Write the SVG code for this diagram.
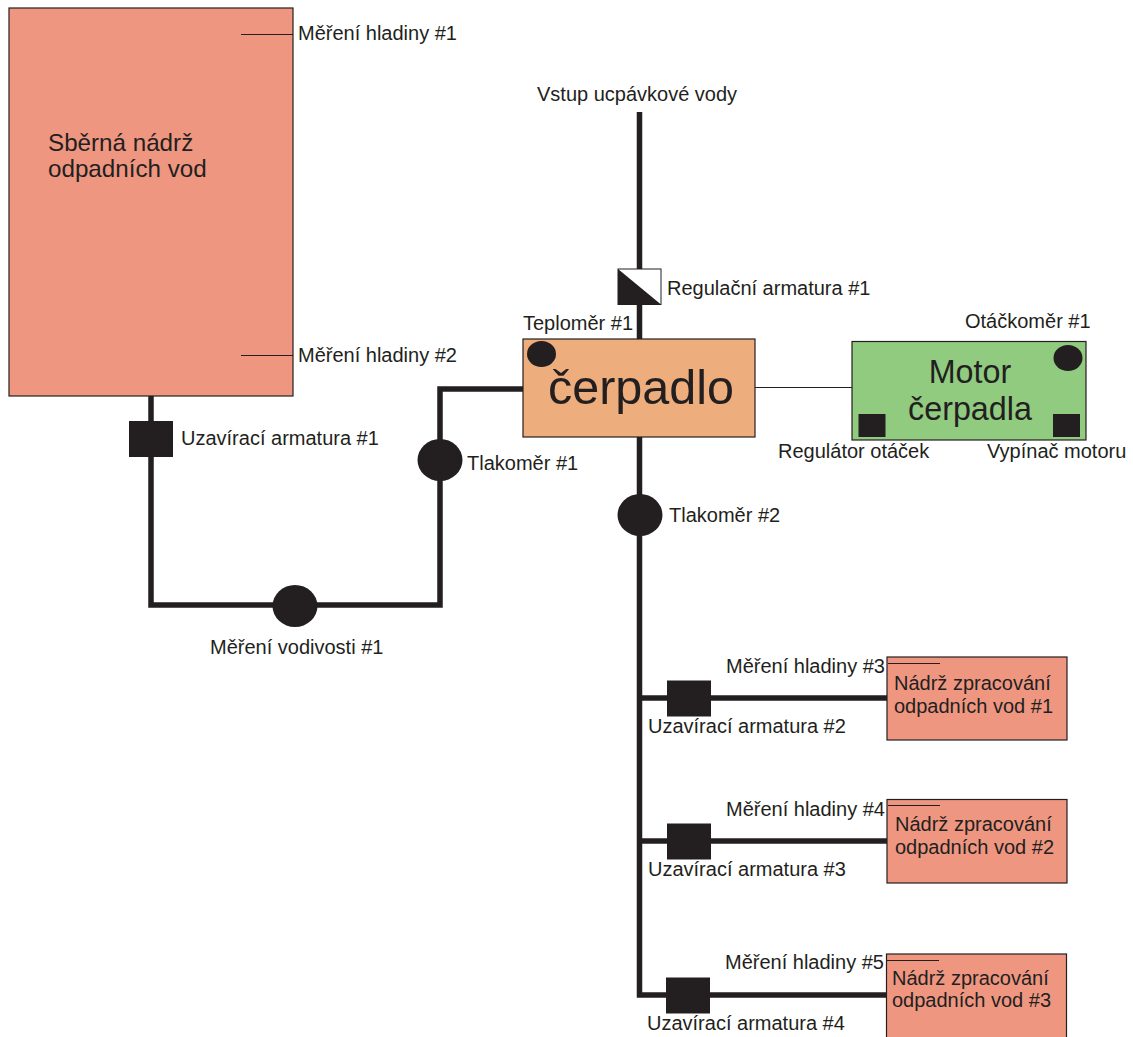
<svg xmlns="http://www.w3.org/2000/svg" width="1133" height="1037" viewBox="0 0 1133 1037">
<style>
text{font-family:"Liberation Sans",Arial,sans-serif;fill:#231f20;font-size:20px}
.box{stroke:#231f20;stroke-width:1.200}
.tank{fill:#ef9681}
.pipe{fill:none;stroke:#231f20;stroke-width:5.500}
.thin{fill:none;stroke:#231f20;stroke-width:1}
.blk{fill:#231f20}
.big{font-size:24.200px}
.mot{font-size:32.300px}
</style>
<rect width="1133" height="1037" fill="#fff"/>
<g id="tank-main"><rect class="box tank" x="9" y="8" width="284" height="388"/><text class="big" x="48" y="151">Sběrná nádrž</text><text class="big" x="48" y="177">odpadních vod</text></g>
<g id="pump"><rect class="box" fill="#edad7c" x="523" y="339" width="232" height="98"/><text x="641" y="404" text-anchor="middle" style="font-size:48.500px">čerpadlo</text></g>
<g id="motor"><rect class="box" fill="#90cb80" x="852" y="341.500" width="234" height="98.500"/><text class="mot" x="970" y="383" text-anchor="middle">Motor</text><text class="mot" x="970" y="420" text-anchor="middle">čerpadla</text></g>
<g id="tank-1"><rect class="box tank" x="887" y="657" width="180" height="83"/><text x="894" y="690">Nádrž zpracování</text><text x="894" y="713">odpadních vod #1</text></g>
<g id="tank-2"><rect class="box tank" x="887" y="799.500" width="180" height="83.500"/><text x="895" y="831">Nádrž zpracování</text><text x="895" y="854">odpadních vod #2</text></g>
<g id="tank-3"><rect class="box tank" x="886.500" y="954" width="180" height="84"/><text x="892" y="985">Nádrž zpracování</text><text x="892" y="1007">odpadních vod #3</text></g>
<g id="connectors">
<path class="pipe" d="M151 396V605H440V389H523"/>
<path class="pipe" d="M639.500 112V339"/>
<path class="pipe" d="M639.500 437V690"/>
<path class="pipe" d="M639.500 690V995H887"/>
<path class="pipe" d="M640 698H887"/>
<path class="pipe" d="M640 841H887"/>
<path class="thin" d="M755 387.500H852"/>
<path class="thin" d="M241 34.500H293M241 355.500H293M888 663.500H940M888 805.500H940M887 960.500H939"/>
</g>
<g id="valve-reg"><rect x="618" y="269" width="43" height="35.500" fill="#fff" stroke="#231f20"/><path class="blk" d="M618 269L661 304.500H618Z"/></g>
<g id="valve-1"><rect class="blk" x="129" y="421" width="44" height="36"/></g>
<g id="valve-2"><rect class="blk" x="667" y="680.500" width="44" height="36"/></g>
<g id="valve-3"><rect class="blk" x="667" y="823.500" width="44" height="36"/></g>
<g id="valve-4"><rect class="blk" x="666" y="977.500" width="44" height="36"/></g>
<g id="gauge-1"><ellipse class="blk" cx="440" cy="460" rx="22.500" ry="21"/></g>
<g id="gauge-2"><ellipse class="blk" cx="640" cy="515" rx="22.500" ry="21"/></g>
<g id="cond"><ellipse class="blk" cx="295" cy="606" rx="22.500" ry="21"/></g>
<g id="temp"><ellipse class="blk" cx="541.500" cy="354" rx="14.500" ry="13"/></g>
<g id="rpm"><ellipse class="blk" cx="1068" cy="358" rx="14.500" ry="13"/></g>
<g id="reg"><rect class="blk" x="858.500" y="414" width="27" height="23"/></g>
<g id="sw"><rect class="blk" x="1053" y="414" width="27" height="23"/></g>
<g id="labels">
<text x="298" y="40">Měření hladiny #1</text>
<text x="298" y="362">Měření hladiny #2</text>
<text x="537" y="101">Vstup ucpávkové vody</text>
<text x="667" y="295">Regulační armatura #1</text>
<text x="523" y="330">Teploměr #1</text>
<text x="965" y="328">Otáčkoměr #1</text>
<text x="181" y="445">Uzavírací armatura #1</text>
<text x="467" y="470">Tlakoměr #1</text>
<text x="669" y="522">Tlakoměr #2</text>
<text x="778" y="458">Regulátor otáček</text>
<text x="987" y="458">Vypínač motoru</text>
<text x="210" y="654">Měření vodivosti #1</text>
<text x="726" y="673">Měření hladiny #3</text>
<text x="648" y="733">Uzavírací armatura #2</text>
<text x="726" y="816">Měření hladiny #4</text>
<text x="648" y="876">Uzavírací armatura #3</text>
<text x="725" y="969">Měření hladiny #5</text>
<text x="647" y="1030">Uzavírací armatura #4</text>
</g>
</svg>
